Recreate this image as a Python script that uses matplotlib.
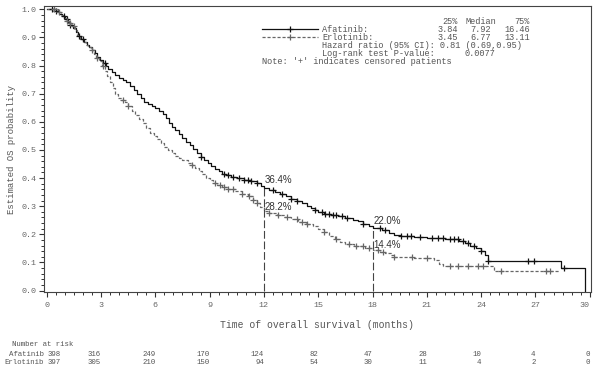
import matplotlib.pyplot as plt
import numpy as np

# Kaplan-Meier step points (months, survival)
afatinib_t = [0, 0.5, 0.7, 0.85, 1.0, 1.15, 1.3, 1.45, 1.6, 1.75, 1.9, 2.05, 2.2, 2.35, 2.5,
              2.65, 2.8, 2.95, 3.1, 3.25, 3.4, 3.6, 3.8, 4.0, 4.2, 4.4, 4.6, 4.8, 5.0, 5.2,
              5.4, 5.6, 5.8, 6.0, 6.2, 6.4, 6.6, 6.75, 6.9, 7.1, 7.3, 7.5, 7.7, 7.9, 8.1,
              8.3, 8.5, 8.7, 8.9, 9.1, 9.3, 9.5, 9.7, 9.9, 10.2, 10.5, 10.9, 11.3, 11.6,
              11.85, 12.0, 12.3, 12.6, 12.9, 13.2, 13.5, 13.8, 14.1, 14.4, 14.6, 14.8, 15.0,
              15.3, 15.7, 16.1, 16.5, 16.9, 17.2, 17.5, 17.8, 18.0, 18.5, 18.9, 19.2, 19.6,
              20.3, 21.0, 22.0, 22.8, 23.1, 23.4, 23.7, 24.0, 24.2, 24.4, 28.4, 29.75]
afatinib_s = [1.0, 0.995, 0.985, 0.975, 0.965, 0.955, 0.945, 0.935, 0.92, 0.905, 0.895,
              0.885, 0.875, 0.865, 0.855, 0.845, 0.832, 0.82, 0.808, 0.798, 0.787, 0.777,
              0.767, 0.757, 0.748, 0.74, 0.728, 0.712, 0.698, 0.684, 0.672, 0.662, 0.655,
              0.648, 0.64, 0.628, 0.612, 0.596, 0.582, 0.57, 0.557, 0.543, 0.53, 0.518,
              0.505, 0.49, 0.476, 0.463, 0.452, 0.442, 0.432, 0.424, 0.416, 0.41, 0.405,
              0.40, 0.395, 0.39, 0.382, 0.372, 0.364, 0.357, 0.35, 0.342, 0.335, 0.327,
              0.318, 0.31, 0.302, 0.294, 0.286, 0.28, 0.274, 0.268, 0.264, 0.259, 0.252,
              0.246, 0.238, 0.23, 0.222, 0.215, 0.206, 0.199, 0.193, 0.19, 0.186, 0.183,
              0.176, 0.168, 0.16, 0.15, 0.14, 0.125, 0.105, 0.081, 0.0]

erlotinib_t = [0, 0.6, 0.8, 0.95, 1.1, 1.25, 1.4, 1.55, 1.7, 1.85, 2.0, 2.15, 2.3, 2.45, 2.6,
               2.75, 2.9, 3.05, 3.2, 3.35, 3.5, 3.65, 3.8, 3.95, 4.1, 4.3, 4.5, 4.7, 4.9,
               5.1, 5.3, 5.5, 5.7, 5.9, 6.1, 6.3, 6.5, 6.7, 6.9, 7.1, 7.3, 7.5, 7.8, 8.0,
               8.2, 8.4, 8.6, 8.8, 9.0, 9.2, 9.4, 9.7, 10.0, 10.4, 10.8, 11.1, 11.4, 11.6,
               11.8, 12.0, 12.3, 12.7, 13.1, 13.5, 13.9, 14.3, 14.7, 15.0, 15.3, 15.6, 15.9,
               16.2, 16.5, 17.0, 17.6, 18.0, 18.4, 18.7, 19.0, 19.2, 20.3, 21.4, 21.7, 21.9,
               24.7, 28.3]
erlotinib_s = [1.0, 0.99, 0.98, 0.97, 0.96, 0.95, 0.94, 0.925, 0.91, 0.895, 0.885, 0.875,
               0.865, 0.855, 0.84, 0.828, 0.815, 0.80, 0.78, 0.762, 0.742, 0.722, 0.70,
               0.686, 0.678, 0.67, 0.655, 0.64, 0.625, 0.61, 0.595, 0.578, 0.562, 0.55,
               0.538, 0.525, 0.512, 0.50, 0.488, 0.478, 0.47, 0.463, 0.455, 0.448, 0.437,
               0.425, 0.413, 0.402, 0.392, 0.384, 0.377, 0.37, 0.362, 0.354, 0.345, 0.335,
               0.322, 0.31, 0.296, 0.282, 0.276, 0.27, 0.262, 0.254, 0.245, 0.238, 0.228,
               0.218, 0.207, 0.194, 0.183, 0.172, 0.165, 0.16, 0.152, 0.144, 0.138, 0.132,
               0.125, 0.118, 0.115, 0.108, 0.095, 0.088, 0.071, 0.071]

# censored times
afatinib_cens = [0.3, 0.5, 0.95, 1.1, 1.3, 1.8, 2.0, 3.2, 8.5, 9.8, 10.0, 10.3, 10.6, 10.9,
                 11.1, 11.3, 11.6, 12.5, 13.0, 13.5, 13.8, 14.8, 15.2, 15.4, 15.6, 15.8,
                 16.0, 16.3, 16.6, 17.5, 18.4, 18.7, 19.6, 19.9, 20.1, 20.6, 21.3, 21.6,
                 21.9, 22.3, 22.5, 22.7, 23.0, 23.3, 23.6, 24.0, 24.4, 26.6, 26.9, 28.6]
erlotinib_cens = [0.4, 0.7, 1.1, 1.3, 1.5, 2.5, 2.8, 3.1, 4.2, 4.5, 8.0, 9.3, 9.6, 9.8,
                  10.0, 10.3, 10.8, 11.2, 11.4, 11.6, 12.3, 12.8, 13.3, 13.8, 14.1, 14.4,
                  15.3, 16.0, 16.7, 17.1, 17.5, 17.8, 18.3, 18.6, 19.2, 20.2, 21.0, 22.3,
                  22.7, 23.3, 23.8, 24.1, 25.1, 27.6, 27.8]

risk_times = [0, 3, 6, 9, 12, 15, 18, 21, 24, 27, 30]
afatinib_risk = [398, 316, 249, 170, 124, 82, 47, 28, 10, 4, 0]
erlotinib_risk = [397, 305, 210, 150, 94, 54, 30, 11, 4, 2, 0]

mono = "Liberation Mono"
gray = "#555555"

W, H = 593, 371


def fx(px):
    return px / W


def fy(py):
    return 1 - py / H


def surv_at(times, surv, t):
    i = np.searchsorted(times, t, side="right") - 1
    return surv[i]


fig = plt.figure(figsize=(5.93, 3.71), dpi=100)
ax = fig.add_axes([fx(44), fy(292), (591 - 44) / W, (292 - 6) / H])

ax.step(afatinib_t, afatinib_s, where="post", color="#111111", lw=0.9)
ax.step(erlotinib_t, erlotinib_s, where="post", color="#666666", lw=0.9, dashes=(2.5, 1.5))

a_cy = [surv_at(afatinib_t, afatinib_s, t) for t in afatinib_cens]
e_cy = [surv_at(erlotinib_t, erlotinib_s, t) for t in erlotinib_cens]
ax.plot(afatinib_cens, a_cy, "+", color="#111111", ms=4, mew=0.9)
ax.plot(erlotinib_cens, e_cy, "+", color="#666666", ms=4, mew=0.9)

# 12 and 18 month reference lines
ax.plot([12, 12], [0, 0.364], color="#444444", lw=0.8, dashes=(7, 2.5))
ax.plot([18, 18], [0, 0.222], color="#444444", lw=0.8, dashes=(7, 2.5))
pct = dict(family="Liberation Sans", fontsize=7, color="#333333", va="center")
ax.text(12.05, 0.393, "36.4%", **pct)
ax.text(12.05, 0.297, "28.2%", **pct)
ax.text(18.05, 0.248, "22.0%", **pct)
ax.text(18.05, 0.163, "14.4%", **pct)

ax.set_xlim(-0.15, 30.07)
ax.set_ylim(-0.005, 1.012)
ax.set_xticks(risk_times)
ax.set_xticks(np.arange(0, 30.01, 0.5), minor=True)
ax.set_yticks(np.arange(0, 1.01, 0.1))
ax.set_yticks(np.arange(0, 1.001, 0.02), minor=True)
ax.set_yticklabels([f"{v:.1f}" for v in np.arange(0, 1.01, 0.1)])
ax.tick_params(which="major", length=3.5, width=0.8, color="#333333")
ax.tick_params(which="minor", length=2, width=0.7, color="#333333")
ax.tick_params(axis="x", pad=4)
ax.tick_params(axis="y", pad=2)
for lab in ax.get_xticklabels() + ax.get_yticklabels():
    lab.set_family(mono)
    lab.set_fontsize(6)
    lab.set_color("#666666")
ax.get_xticklabels()[-1].set_horizontalalignment("right")
for sp in ax.spines.values():
    sp.set_linewidth(0.8)
    sp.set_color("#444444")

fig.text(fx(12), fy(149), "Estimated OS probability", rotation=90, ha="center",
         va="center", family=mono, fontsize=6.5, color=gray)
fig.text(fx(317), fy(325), "Time of overall survival (months)", ha="center",
         va="center", family=mono, fontsize=7, color=gray)

# legend block
leg = dict(family=mono, fontsize=6.2, color=gray, va="center")
fig.text(fx(458), fy(21), "25%", ha="right", **leg)
fig.text(fx(496), fy(21), "Median", ha="right", **leg)
fig.text(fx(530), fy(21), "75%", ha="right", **leg)
fig.text(fx(322), fy(29), "Afatinib:", ha="left", **leg)
fig.text(fx(458), fy(29), "3.84", ha="right", **leg)
fig.text(fx(491), fy(29), "7.92", ha="right", **leg)
fig.text(fx(530), fy(29), "16.46", ha="right", **leg)
fig.text(fx(322), fy(37), "Erlotinib:", ha="left", **leg)
fig.text(fx(458), fy(37), "3.45", ha="right", **leg)
fig.text(fx(491), fy(37), "6.77", ha="right", **leg)
fig.text(fx(530), fy(37), "13.11", ha="right", **leg)
fig.text(fx(322), fy(45), "Hazard ratio (95% CI): 0.81 (0.69,0.95)", ha="left", **leg)
fig.text(fx(322), fy(54), "Log-rank test P-value:", ha="left", **leg)
fig.text(fx(495), fy(54), "0.0077", ha="right", **leg)
fig.text(fx(262), fy(62), "Note: '+' indicates censored patients", ha="left", **leg)

fig.add_artist(plt.Line2D([fx(262), fx(318)], [fy(29), fy(29)], color="#111111", lw=0.9))
fig.add_artist(plt.Line2D([fx(290)], [fy(29)], marker="+", color="#111111", ms=4, mew=0.9))
fig.add_artist(plt.Line2D([fx(262), fx(318)], [fy(37), fy(37)], color="#666666", lw=0.9,
                          dashes=(2.5, 1.5)))
fig.add_artist(plt.Line2D([fx(290)], [fy(37)], marker="+", color="#666666", ms=4, mew=0.9))

# number at risk table
risk = dict(family=mono, fontsize=5.3, color=gray, va="center")
fig.text(fx(12), fy(345), "Number at risk", ha="left", **risk)
for row_y, name, vals in [(355, "Afatinib", afatinib_risk), (363, "Erlotinib", erlotinib_risk)]:
    fig.text(fx(44), fy(row_y), name, ha="right", **risk)
    for t, v in zip(risk_times, vals):
        x_fig = fig.transFigure.inverted().transform(ax.transData.transform((t, 0)))[0]
        if t == 0:
            fig.text(x_fig + 0.5 / W, fy(row_y), str(v), ha="left", **risk)
        else:
            fig.text(x_fig, fy(row_y), str(v), ha="right", **risk)

fig.savefig("out.png", dpi=100)
